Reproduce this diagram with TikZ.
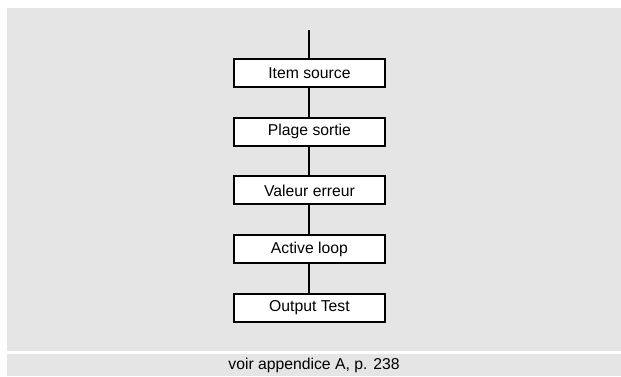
\documentclass[tikz,border=0pt]{standalone}
\usepackage{fontspec}
\setmainfont{Liberation Sans}
\usepackage{tikz}
\usetikzlibrary{positioning}
\definecolor{panelgray}{RGB}{229,229,229}

\begin{document}
\begin{tikzpicture}[
        node distance=21.5pt,
        font=\fontsize{11.8}{14}\selectfont,
        box/.style={
          draw,
          fill=white,
          line width=1.5pt,
          minimum width=113.25pt,
          minimum height=21pt,
          inner sep=0pt,
          align=center
        },
        link/.style={line width=1.5pt}
      ]
      \useasboundingbox (0,0) rectangle (465.75pt,-282pt);

      % gray panel and caption strip
      \fill[panelgray] (5.25pt,-6pt) rectangle (465.75pt,-263.25pt);
      \fill[panelgray] (5.25pt,-265.5pt) rectangle (465.75pt,-282pt);

      % chain of steps
      \coordinate (top) at (232.1pt,-22.5pt);
      \node[box] (item) at (232.1pt,-54.8pt) {Item source};
      \node[box,below=of item]  (plage)  {Plage sortie};
      \node[box,below=of plage] (valeur) {Valeur erreur};
      \node[box,below=of valeur] (loop)  {Active loop};
      \node[box,below=of loop]  (test)   {Output Test};
      \draw[link] (top) -- (item) -- (plage) -- (valeur) -- (loop) -- (test);

      % caption
      \node (note) at (235.5pt,-273.75pt) {voir appendice A, p. 238};
\end{tikzpicture}
\end{document}
